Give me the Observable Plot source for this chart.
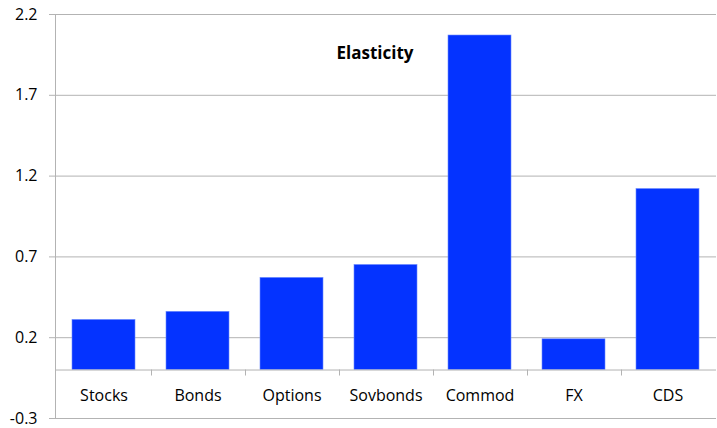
<!DOCTYPE html>
<html>
<head>
<meta charset="utf-8">
<script src="https://cdn.jsdelivr.net/npm/d3@7"></script>
<script src="https://cdn.jsdelivr.net/npm/@observablehq/plot@0.6"></script>
<style>
  html, body { margin: 0; padding: 0; background: #fff; }
  #chart svg { display: block; }
</style>
</head>
<body>
<div id="chart"></div>
<script>
const categories = ["Stocks", "Bonds", "Options", "Sovbonds", "Commod", "FX", "CDS"];
const values = [0.31, 0.36, 0.57, 0.65, 2.07, 0.19, 1.12];
const yTicks = [-0.3, 0.2, 0.7, 1.2, 1.7, 2.2];
const title = "Elasticity";

const data = categories.map((c, i) => ({category: c, value: values[i]}));
const gridColor = "#b3b3b3";
const font = "'Open Sans', 'DejaVu Sans', sans-serif";

function categoryTicks(index, scales, values, dims) {
  const x = scales.x, y = scales.y;
  const step = x.step(), bw = x.bandwidth();
  const g = d3.create("svg:g");
  const y0 = y(0);
  categories.slice(1).forEach(c => {
    const bx = Math.round(x(c) - (step - bw) / 2) + 0.5;
    g.append("line")
      .attr("x1", bx).attr("x2", bx)
      .attr("y1", y0).attr("y2", y0 + 6)
      .attr("stroke", gridColor);
  });
  return g.node();
}

const chart = Plot.plot({
  width: 717,
  height: 428,
  marginLeft: 55,
  marginRight: 1,
  marginTop: 14,
  marginBottom: 10,
  style: {fontFamily: font, fontSize: "16px", color: "#000", background: "#fff"},
  x: {domain: categories, paddingInner: 0.33, paddingOuter: 0.165, axis: null},
  y: {domain: [-0.3, 2.2], ticks: yTicks, tickFormat: d => d.toFixed(1), label: null},
  marks: [
    Plot.ruleY(yTicks, {stroke: gridColor, strokeWidth: 1}),
    Plot.axisY({ticks: yTicks, tickFormat: d => d.toFixed(1), tickSize: 6, tickPadding: 12, stroke: gridColor, label: null, fontSize: 16, fill: "#000"}),
    Plot.barY(data, {x: "category", y: "value", fill: "#0433ff", stroke: "#6d8bff", strokeWidth: 0.6}),
    Plot.ruleY([0], {stroke: gridColor, strokeWidth: 1}),
    categoryTicks,
    Plot.text(data, {x: "category", y: () => 0, text: "category", dy: 26, fontSize: 16, fill: "#000"}),
    Plot.text([title], {frameAnchor: "top", dx: -11, dy: 32, text: d => d, fontWeight: "bold", fontSize: 17, fill: "#000"})
  ]
});

// y axis line
d3.select(chart).append("line")
  .attr("x1", 55.5).attr("x2", 55.5)
  .attr("y1", 14).attr("y2", 418)
  .attr("stroke", gridColor);

document.getElementById("chart").appendChild(chart);
</script>
</body>
</html>
